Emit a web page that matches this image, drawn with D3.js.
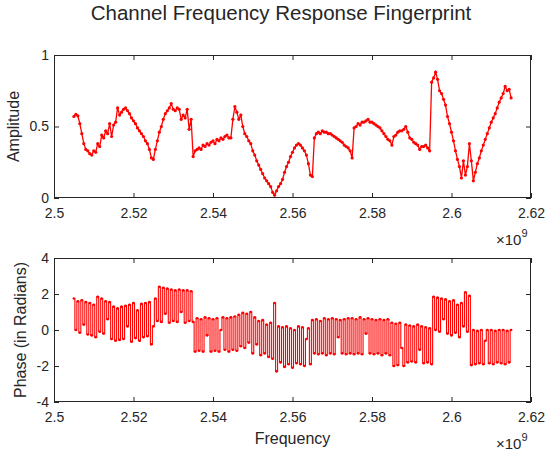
<!DOCTYPE html>
<html><head><meta charset="utf-8">
<script src="https://cdn.jsdelivr.net/npm/d3@7"></script>
<style>
body{margin:0;background:#fff}
svg{display:block}
text{font-family:"Liberation Sans",Arial,Helvetica,sans-serif;fill:#262626}
</style>
</head><body>
<script>
// Sampling grid (GHz)
const freqStartGHz = 2.505;
const freqStepGHz = 0.0005;

// Amplitude readings, one per grid sample (2.505 .. 2.615 GHz)
const amplitude = [
  0.57,0.585,0.575,0.52,0.45,0.38,0.34,0.33,0.31,0.30,
  0.33,0.32,0.38,0.36,0.44,0.42,0.47,0.45,0.52,0.43,
  0.51,0.53,0.63,0.58,0.60,0.62,0.63,0.61,0.59,0.56,
  0.54,0.52,0.49,0.47,0.45,0.43,0.40,0.38,0.34,0.28,
  0.27,0.34,0.40,0.46,0.50,0.55,0.59,0.61,0.63,0.66,
  0.62,0.61,0.63,0.62,0.55,0.58,0.56,0.62,0.48,0.55,
  0.29,0.33,0.34,0.35,0.34,0.37,0.36,0.38,0.37,0.39,
  0.40,0.38,0.41,0.40,0.42,0.41,0.43,0.44,0.42,0.42,
  0.55,0.64,0.60,0.55,0.58,0.50,0.45,0.43,0.40,0.38,
  0.33,0.30,0.26,0.23,0.20,0.17,0.14,0.12,0.10,0.08,
  0.04,0.02,0.05,0.08,0.10,0.13,0.18,0.22,0.25,0.29,
  0.32,0.35,0.37,0.38,0.37,0.35,0.33,0.30,0.24,0.16,
  0.15,0.42,0.45,0.46,0.45,0.47,0.46,0.46,0.45,0.45,
  0.44,0.43,0.42,0.41,0.40,0.39,0.37,0.36,0.35,0.33,
  0.28,0.49,0.50,0.52,0.51,0.53,0.53,0.54,0.55,0.53,
  0.53,0.52,0.51,0.50,0.49,0.47,0.45,0.43,0.41,0.40,
  0.37,0.43,0.44,0.46,0.47,0.47,0.48,0.50,0.46,0.42,
  0.41,0.39,0.38,0.37,0.34,0.36,0.36,0.37,0.35,0.33,
  0.81,0.84,0.88,0.83,0.75,0.73,0.69,0.65,0.57,0.52,
  0.46,0.40,0.33,0.27,0.22,0.14,0.26,0.16,0.22,0.38,
  0.26,0.12,0.18,0.24,0.28,0.33,0.37,0.41,0.45,0.49,
  0.53,0.56,0.59,0.63,0.67,0.70,0.73,0.78,0.75,0.76,
  0.70
];

// Phase readings (radians), one per grid sample; values swing between band edges
const phase = [
  1.75,0.0,1.6,-0.15,1.65,0.3,1.55,-0.25,1.5,-0.3,
  1.4,-0.4,1.85,-0.1,1.75,-0.2,1.6,0.6,1.55,-0.5,
  1.3,-0.6,1.2,-0.55,1.3,-0.5,1.35,0.2,1.4,-0.65,
  1.5,-0.45,1.1,-0.6,1.45,-0.4,1.5,-0.35,1.55,-0.8,
  0.2,1.75,0.5,2.4,0.45,2.35,0.9,2.3,0.4,2.25,
  0.5,2.2,0.45,2.25,1.0,2.2,0.4,2.2,0.5,2.15,
  0.45,-1.2,0.65,-1.15,0.6,-1.2,0.7,-0.3,0.65,-1.2,
  0.6,-1.15,0.65,-1.2,0.0,0.7,-1.1,0.65,-1.2,0.7,
  -1.1,0.75,-1.15,0.85,-0.9,0.95,-1.0,0.9,-0.7,1.0,
  -1.3,0.7,-0.8,0.5,-1.4,0.55,-1.3,0.3,-1.5,0.4,
  -1.6,1.5,-2.3,0.2,-1.8,0.15,-2.05,0.2,-1.9,0.1,
  -2.1,0.0,-1.85,0.2,-1.9,0.15,-2.0,-0.5,0.1,-1.9,
  0.55,-1.3,0.6,-1.35,0.5,-1.3,0.65,-1.4,0.6,-1.3,
  0.65,-1.35,0.6,-0.4,0.55,-1.3,0.6,-1.35,0.65,-1.3,
  0.65,-1.35,0.6,-1.3,0.7,-1.35,0.6,-0.2,0.65,-1.3,
  0.6,-1.35,0.55,-1.3,0.6,-1.4,0.55,-1.3,0.6,-1.4,
  0.4,-2.0,0.35,-1.95,0.4,-1.0,-2.0,0.3,-1.8,0.25,
  -1.75,0.2,-1.8,0.3,-1.1,0.2,-1.85,0.15,-1.8,0.1,
  -1.9,1.85,0.0,1.8,-0.1,1.75,0.6,1.7,-0.2,1.6,
  -0.3,1.65,-0.15,1.4,-0.4,1.5,0.2,2.1,-0.1,1.9,
  -1.95,0.0,-1.9,-0.05,-1.85,0.0,-1.9,-0.6,0.0,-1.85,
  0.0,-1.9,-0.05,-1.8,0.0,-1.85,0.0,-1.9,-0.05,-1.8,
  0.0
];

const xTicksGHz = [2.5,2.52,2.54,2.56,2.58,2.6,2.62];
const ampTicks = [0,0.5,1];
const phaseTicks = [-4,-2,0,2,4];

const titleText = "Channel Frequency Response Fingerprint";
const ampLabel = "Amplitude";
const phaseLabel = "Phase (in Radians)";
const xLabel = "Frequency";

const W = 545, H = 454;
const freqHz = amplitude.map((_, i) => (freqStartGHz + i * freqStepGHz) * 1e9);
const RED = "#ff0000";
const AX = "#262626";

const svg = d3.select("body").append("svg").attr("width", W).attr("height", H);
svg.append("rect").attr("width", W).attr("height", H).attr("fill", "#fff");

const left = 54, right = 531;
const x = d3.scaleLinear().domain([2.5e9, 2.62e9]).range([left, right]);

function frame(top, bottom, yDomain, yTicks, yFmt, ylabel, ylabelX) {
  const y = d3.scaleLinear().domain(yDomain).range([bottom, top]);
  const g = svg.append("g");
  const ax = d3.axisBottom(x).tickValues(xTicksGHz.map(v => v * 1e9))
    .tickFormat(d => String(+(d / 1e9).toFixed(2)))
    .tickSizeInner(-5).tickSizeOuter(0).tickPadding(10.5);
  const gx = g.append("g").attr("transform", `translate(0,${bottom})`).call(ax);
  const axT = d3.axisTop(x).tickValues(xTicksGHz.map(v => v * 1e9)).tickFormat("")
    .tickSizeInner(-5).tickSizeOuter(0);
  const gxt = g.append("g").attr("transform", `translate(0,${top})`).call(axT);
  const ay = d3.axisLeft(y).tickValues(yTicks).tickFormat(yFmt)
    .tickSizeInner(-5).tickSizeOuter(0).tickPadding(5);
  const gy = g.append("g").attr("transform", `translate(${left},0)`).call(ay);
  const ayR = d3.axisRight(y).tickValues(yTicks).tickFormat("")
    .tickSizeInner(-5).tickSizeOuter(0);
  const gyr = g.append("g").attr("transform", `translate(${right},0)`).call(ayR);
  [gx, gxt, gy, gyr].forEach(s => {
    s.select(".domain").remove();
    s.selectAll("line").attr("stroke", AX);
    s.selectAll("text").attr("fill", AX).style("font-size", "14px")
      .style("font-family", '"Liberation Sans",Arial,sans-serif');
  });

  svg.append("text").attr("transform", `translate(${ylabelX},${(top + bottom) / 2}) rotate(-90)`)
    .attr("text-anchor", "middle").style("font-size", "16px").text(ylabel);

  const ex = svg.append("text").attr("x", 496).attr("y", bottom + 47).style("font-size", "15px").attr("fill", AX);
  ex.append("tspan").text("\u00d710");
  ex.append("tspan").attr("dy", -8).style("font-size", "11px").text("9");

  const clipId = "clip" + top;
  svg.append("clipPath").attr("id", clipId).append("rect")
    .attr("x", left).attr("y", top).attr("width", right - left).attr("height", bottom - top);
  const dg = svg.append("g").attr("clip-path", `url(#${clipId})`);
  return { y, dg, top, bottom };
}

function box(f) {
  svg.append("rect").attr("x", left + 0.5).attr("y", f.top + 0.5)
    .attr("width", right - left - 1).attr("height", f.bottom - f.top - 1)
    .attr("fill", "none").attr("stroke", AX).attr("stroke-width", 1);
}

// ---- Amplitude panel ----
const fa = frame(55, 198, [0, 1], ampTicks, d => d === 0.5 ? "0.5" : String(d), ampLabel, 18.5);
const lineA = d3.line().x((d, i) => x(freqHz[i])).y(d => fa.y(d));
fa.dg.append("path").datum(amplitude).attr("d", lineA)
  .attr("fill", "none").attr("stroke", RED).attr("stroke-width", 1.3);
fa.dg.selectAll("circle").data(amplitude).join("circle")
  .attr("cx", (d, i) => x(freqHz[i])).attr("cy", d => fa.y(d))
  .attr("r", 1.6).attr("fill", RED);
box(fa);

// ---- Phase panel ----
const fp = frame(258, 402, [-4, 4], phaseTicks, d => String(d), phaseLabel, 25.5);
const lineP = d3.line().curve(d3.curveStep).x((d, i) => x(freqHz[i])).y(d => fp.y(d));
fp.dg.append("path").datum(phase).attr("d", lineP)
  .attr("fill", "none").attr("stroke", RED).attr("stroke-width", 1.1);
fp.dg.selectAll("circle").data(phase).join("circle")
  .attr("cx", (d, i) => x(freqHz[i])).attr("cy", d => fp.y(d))
  .attr("r", 1.3).attr("fill", RED);
box(fp);

svg.append("text").attr("x", 281).attr("y", 20).attr("text-anchor", "middle")
  .style("font-size", "20.5px").text(titleText);
svg.append("text").attr("x", (left + right) / 2).attr("y", 444).attr("text-anchor", "middle")
  .style("font-size", "16px").text(xLabel);
</script>
</body></html>
